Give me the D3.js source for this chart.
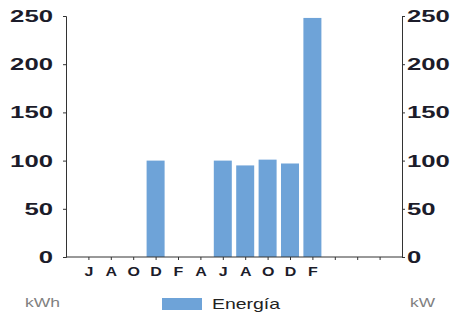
<!DOCTYPE html>
<html><head><meta charset="utf-8">
<script src="https://cdn.jsdelivr.net/npm/d3@7"></script>
<style>body{margin:0;background:#fff}svg{display:block}</style>
</head><body>
<script>
const monthLabels = ["J","A","O","D","F","A","J","A","O","D","F","","",""];
const energia = [null,null,null,100,null,null,100,95,101,97,248,null,null,null];
const yTicks = [0,50,100,150,200,250];

const W=460,H=313;
const svg=d3.select("body").append("svg").attr("width",W).attr("height",H);
const x=d3.scalePoint().domain(d3.range(monthLabels.length)).range([66,402]).padding(1);
const y=d3.scaleLinear().domain([0,250]).range([257,16]);
const barW=18;
const ink="#1c1c2a";
const ff="Liberation Sans, Arial, sans-serif";

svg.append("g").selectAll("rect").data(energia.map((v,i)=>({v,i})).filter(d=>d.v!=null))
 .join("rect").attr("x",d=>x(d.i)-barW/2).attr("width",barW)
 .attr("y",d=>y(d.v)).attr("height",d=>y(0)-y(d.v)).attr("fill","#6ea3d8");

const ga=svg.append("g").attr("transform","translate(66,0)").call(d3.axisLeft(y).tickValues(yTicks).tickSize(3).tickPadding(12));
const gb=svg.append("g").attr("transform","translate(402,0)").call(d3.axisRight(y).tickValues(yTicks).tickSize(3).tickPadding(4));
[ga,gb].forEach(g=>{
  g.select(".domain").attr("stroke","#333");
  g.selectAll(".tick line").attr("stroke","#333");
  g.selectAll(".tick text").attr("fill",ink).attr("font-family",ff)
   .attr("font-weight","bold").attr("font-size",17)
   .attr("textLength",d=>String(d).length*14.3).attr("lengthAdjust","spacingAndGlyphs");
});
gb.selectAll(".tick text").attr("x",5);
ga.selectAll(".tick text").attr("x",-13);

const gx=svg.append("g").attr("transform","translate(0,257)")
 .call(d3.axisBottom(x).tickFormat(i=>monthLabels[i]).tickSize(3).tickPadding(7).tickSizeOuter(0));
gx.select(".domain").attr("stroke","#333").attr("d","M66,0H402");
gx.selectAll(".tick line").attr("stroke","#333");
gx.selectAll(".tick text").attr("fill",ink).attr("font-family",ff)
 .attr("font-weight","bold").attr("font-size",12.5).attr("transform","scale(1.28,1)");

function label(t,xx,yy,size,len,col){
  svg.append("text").attr("x",xx).attr("y",yy).text(t).attr("fill",col)
   .attr("font-family",ff).attr("font-size",size)
   .attr("textLength",len).attr("lengthAdjust","spacingAndGlyphs");
}
label("kWh",25,307,13.5,35,"#808080");
label("kW",410,307,13.5,25,"#808080");

svg.append("rect").attr("x",162).attr("y",298).attr("width",40).attr("height",12).attr("fill","#6ea3d8");
label("Energía",212,309,15,68,"#222");
</script>
</body></html>
